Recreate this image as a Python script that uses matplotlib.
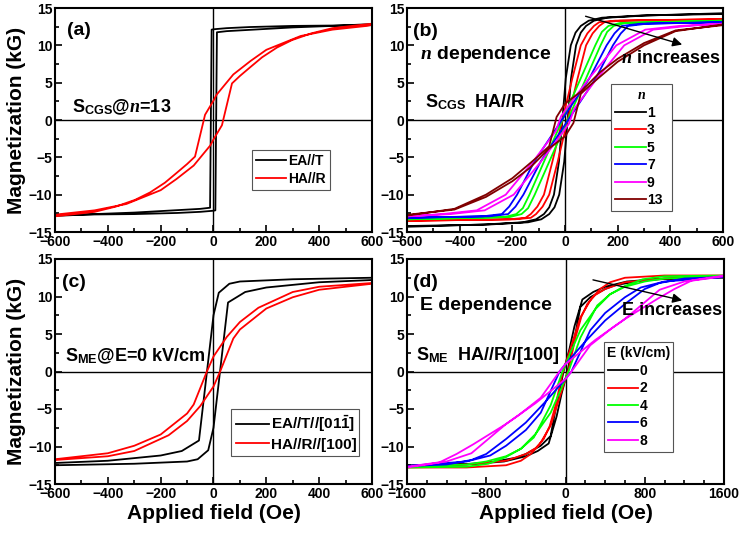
import numpy as np
import matplotlib
matplotlib.use("Agg")
import matplotlib.pyplot as plt
from matplotlib.ticker import MultipleLocator

plt.rcParams['font.family'] = 'Liberation Sans'
plt.rcParams['font.weight'] = 'bold'
plt.rcParams['mathtext.fontset'] = 'custom'
plt.rcParams['mathtext.rm'] = 'Liberation Sans:bold'
plt.rcParams['mathtext.bf'] = 'Liberation Sans:bold'
plt.rcParams['mathtext.it'] = 'Liberation Serif:italic:bold'

# descending branches (field from + to -); ascending branch is the point reflection
# (a) S_CGS @ n=13
a_ea_H = [600, 300, 138, 50, 0, -7, -13, -50, -150, -300, -450, -600]
a_ea_M = [12.7, 12.6, 12.45, 12.3, 12.15, 12.1, -11.75, -11.9, -12.1, -12.4, -12.6, -12.85]
a_ha_H = [600, 580, 450, 330, 200, 140, 75, 12, 0, -32, -70, -100, -140, -184, -240, -297, -370, -450, -600]
a_ha_M = [12.75, 12.6, 12.1, 11.25, 9.4, 7.9, 6.1, 3.4, 2.6, 0.7, -4.9, -5.9, -7.1, -8.4, -9.7, -10.7, -11.6, -12.3, -12.9]

# (b) n dependence
n_labels = ['1', '3', '5', '7', '9', '13']
n_colors = ['black', 'red', '#00ff00', 'blue', 'magenta', '#800000']
b_H = [
    [600, 290, 140, 90, 60, 40, 22, 3, -10, -23, -42, -60, -80, -110, -160, -310, -600],
    [600, 190, 130, 110, 85, 60, 28, -10, -48, -80, -105, -130, -150, -210, -600],
    [600, 210, 165, 140, 115, 60, -10, -80, -135, -160, -185, -230, -600],
    [600, 288, 216, 188, 158, 93, -12, -117, -182, -212, -240, -312, -600],
    [600, 435, 305, 195, 92, 20, -15, -35, -122, -225, -335, -465, -600],
    [600, 420, 300, 200, 133, 60, 0, -32, -60, -100, -133, -200, -300, -420, -600],
]
b_M = [
    [14.2, 14.0, 13.7, 13.3, 12.6, 11.7, 10.0, 5.6, 0.0, -5.6, -10.0, -11.7, -12.6, -13.3, -13.7, -14.0, -14.3],
    [13.5, 13.3, 13.1, 12.6, 11.6, 10.0, 5.6, 0.0, -5.6, -10.0, -11.6, -12.6, -13.1, -13.3, -13.5],
    [13.3, 13.0, 12.6, 11.8, 10.0, 5.6, 0.0, -5.6, -10.0, -11.8, -12.6, -13.0, -13.3],
    [13.1, 12.9, 12.6, 11.6, 10.0, 5.6, 0.0, -5.6, -10.0, -11.6, -12.6, -12.9, -13.1],
    [12.9, 12.6, 12.1, 10.0, 5.6, 2.2, 0.5, -1.5, -5.6, -10.0, -12.1, -12.6, -12.9],
    [12.7, 12.0, 10.3, 8.2, 6.4, 3.8, 2.2, 0.4, -3.5, -4.8, -5.8, -7.8, -10.0, -11.9, -12.8],
]

# (c) S_ME @ E=0
c_ea_H = [600, 300, 100, 60, 20, 0, -55, -120, -200, -400, -600]
c_ea_M = [12.5, 12.3, 12.0, 11.7, 10.5, 7.5, -9.2, -10.6, -11.2, -11.9, -12.2]
c_ha_H = [600, 400, 300, 170, 100, 50, 0, -25, -75, -100, -200, -300, -400, -600]
c_ha_M = [11.8, 11.3, 10.6, 8.5, 6.6, 4.6, 2.0, 0.0, -4.4, -5.6, -8.4, -9.9, -10.9, -11.7]

# (d) E dependence
e_labels = ['0', '2', '4', '6', '8']
e_colors = ['black', 'red', '#00ff00', 'blue', 'magenta']
d_H = [
    [1600, 1000, 620, 400, 280, 170, 90, 40, 0, -20, -60, -100, -150, -250, -400, -500, -800, -1600],
    [1600, 1000, 600, 450, 350, 260, 150, 60, 0, -30, -100, -160, -220, -300, -400, -600, -1000, -1600],
    [1600, 1000, 780, 600, 450, 300, 150, 50, 0, -30, -150, -320, -450, -600, -800, -1000, -1600],
    [1600, 1200, 950, 800, 600, 400, 200, 0, -60, -250, -400, -600, -760, -1000, -1600],
    [1600, 1450, 1200, 950, 600, 300, 0, -60, -250, -470, -600, -930, -1100, -1270, -1600],
]
d_M = [
    [12.5, 12.4, 12.0, 11.3, 10.6, 9.6, 6.0, 3.0, 1.0, 0.0, -2.6, -5.0, -8.6, -9.9, -11.0, -11.5, -12.2, -12.7],
    [12.8, 12.8, 12.5, 11.9, 11.0, 9.7, 7.2, 3.5, 1.0, -0.2, -4.5, -7.3, -9.0, -10.2, -11.0, -11.9, -12.4, -12.7],
    [12.8, 12.7, 12.3, 11.4, 10.3, 8.3, 5.5, 2.5, 0.9, 0.0, -4.5, -8.8, -10.3, -11.3, -12.0, -12.4, -12.7],
    [12.6, 12.4, 11.8, 11.0, 9.0, 6.8, 4.0, 1.0, 0.0, -5.5, -7.8, -9.9, -11.2, -12.0, -12.6],
    [12.8, 12.5, 12.0, 10.9, 7.0, 4.2, 1.0, 0.0, -3.5, -5.8, -7.0, -9.7, -11.0, -12.1, -12.7],
]


def loop(H, M):
    H = np.array(H, float)
    M = np.array(M, float)
    return np.concatenate([H, -H]), np.concatenate([M, -M])


def setup(ax, xmax, xmajor, xminor):
    ax.set_xlim(-xmax, xmax)
    ax.set_ylim(-15, 15)
    ax.axhline(0, color='black', lw=1.0, zorder=1)
    ax.axvline(0, color='black', lw=1.0, zorder=1)
    ax.xaxis.set_major_locator(MultipleLocator(xmajor))
    ax.xaxis.set_minor_locator(MultipleLocator(xminor))
    ax.yaxis.set_major_locator(MultipleLocator(5))
    ax.yaxis.set_minor_locator(MultipleLocator(2.5))
    ax.tick_params(which='both', direction='in', top=False, right=False, width=1.2)
    ax.tick_params(which='major', length=5, labelsize=10, pad=2)
    ax.tick_params(which='minor', length=3)
    for s in ax.spines.values():
        s.set_linewidth(1.5)


def legend(ax, left, bottom, right, top, title=None, fs=10):
    lg = ax.legend(loc='upper left', bbox_to_anchor=(left, bottom, right - left, top - bottom),
                   mode='expand', fontsize=fs, title=title, title_fontsize=fs,
                   frameon=True, fancybox=False, edgecolor='#555555', framealpha=1,
                   handlelength=2.2, handletextpad=0.1, labelspacing=0.25,
                   borderpad=0.3, borderaxespad=0)
    lg.get_frame().set_linewidth(0.8)
    for t in lg.get_texts():
        t.set_fontweight('bold')
    return lg


W, Hh = 743, 534
fig = plt.figure(figsize=(W / 100, Hh / 100), dpi=100)

def rect(x0, x1, y0, y1):
    return [x0 / W, 1 - y1 / Hh, (x1 - x0) / W, (y1 - y0) / Hh]

axa = fig.add_axes(rect(55, 372, 8, 232))
axb = fig.add_axes(rect(407, 723, 8, 232))
axc = fig.add_axes(rect(55, 372, 259, 484))
axd = fig.add_axes(rect(407, 724, 259, 484))

lw = 1.3

# (a)
setup(axa, 600, 200, 100)
axa.plot(*loop(a_ea_H, a_ea_M), color='black', lw=lw, label='EA//T')
axa.plot(*loop(a_ha_H, a_ha_M), color='red', lw=lw, label='HA//R')
axa.text(-555, 11.4, '(a)', fontsize=14, fontweight='bold')
axa.text(-536, 1.0, r'S$_{\mathrm{CGS}}$@$\mathit{n}$=13', fontsize=13, fontweight='bold')
legend(axa, 0.62, 0.205, 0.868, 0.366)

# (b)
setup(axb, 600, 200, 100)
for H, M, lab, col in zip(b_H, b_M, n_labels, n_colors):
    axb.plot(*loop(H, M), color=col, lw=lw, label=lab)
axb.text(-577, 11.3, '(b)', fontsize=14, fontweight='bold')
axb.text(-551, 8.2, r'$\mathit{n}$ dependence', fontsize=14, fontweight='bold')
axb.text(-532, 1.7, r'S$_{\mathrm{CGS}}$  HA//R', fontsize=13, fontweight='bold')
axb.text(588, 7.6, r'$\mathit{n}$ increases', fontsize=13, fontweight='bold', ha='right')
axb.annotate('', xy=(455, 10.0), xytext=(68, 14.0),
             arrowprops=dict(arrowstyle='-|>', color='black', lw=1.0, mutation_scale=14))
legend(axb, 0.645, 0.107, 0.84, 0.66, title=r'$\mathit{n}$')

# (c)
setup(axc, 600, 200, 100)
axc.plot(*loop(c_ea_H, c_ea_M), color='black', lw=lw, label=r'EA//T//[01$\bar{\mathrm{1}}$]')
axc.plot(*loop(c_ha_H, c_ha_M), color='red', lw=lw, label='HA//R//[100]')
axc.text(-573, 11.3, '(c)', fontsize=14, fontweight='bold')
axc.text(-562, 1.3, r'S$_{\mathrm{ME}}$@E=0 kV/cm', fontsize=13, fontweight='bold')
legend(axc, 0.555, 0.164, 0.96, 0.333, fs=11)

# (d)
setup(axd, 1600, 800, 200)
for H, M, lab, col in zip(d_H, d_M, e_labels, e_colors):
    axd.plot(*loop(H, M), color=col, lw=lw, label=lab)
axd.text(-1540, 11.3, '(d)', fontsize=14, fontweight='bold')
axd.text(-1469, 8.2, 'E dependence', fontsize=14, fontweight='bold')
axd.text(-1510, 1.5, r'S$_{\mathrm{ME}}$  HA//R//[100]', fontsize=13, fontweight='bold')
axd.text(1580, 7.5, 'E increases', fontsize=13, fontweight='bold', ha='right')
axd.annotate('', xy=(1205, 9.4), xytext=(250, 12.3),
             arrowprops=dict(arrowstyle='-|>', color='black', lw=1.0, mutation_scale=14))
legend(axd, 0.62, 0.16, 0.84, 0.63, title='E (kV/cm)')

axa.set_ylabel('Magnetization (kG)', fontsize=15, fontweight='bold', labelpad=2)
axc.set_ylabel('Magnetization (kG)', fontsize=15, fontweight='bold', labelpad=2)
axc.set_xlabel('Applied field (Oe)', fontsize=15, fontweight='bold', labelpad=2)
axd.set_xlabel('Applied field (Oe)', fontsize=15, fontweight='bold', labelpad=2)

fig.savefig('out.png', dpi=100)
